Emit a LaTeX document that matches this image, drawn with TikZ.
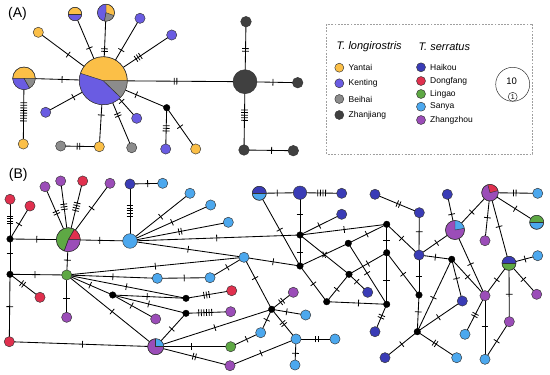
\documentclass[tikz,border=0pt]{standalone}
\usepackage{fontspec}
\setmainfont{Liberation Sans}
\usetikzlibrary{backgrounds}
\definecolor{cY}{HTML}{FBBF47}
\definecolor{cK}{HTML}{6A5CE2}
\definecolor{cB}{HTML}{8C8C8C}
\definecolor{cZ}{HTML}{404040}
\definecolor{cH}{HTML}{3A3CB6}
\definecolor{cR}{HTML}{E0304E}
\definecolor{cG}{HTML}{5EA844}
\definecolor{cS}{HTML}{4CA8EE}
\definecolor{cV}{HTML}{9B4DB8}
\definecolor{olc}{HTML}{333333}
\tikzset{
 hp/.style={circle, draw=olc, line width=0.45pt, inner sep=0pt, outer sep=0pt, minimum size=10.2pt},
 jn/.style={circle, fill=black, draw=black, line width=0.3pt, inner sep=0pt, outer sep=0pt, minimum size=6.6pt},
 edge/.style={line width=0.85pt, black},
 tkline/.style={line width=0.8pt, black},
 olin/.style={draw=olc, line width=0.45pt},
 pics/tk/.style={code={\foreach \i in {1,...,#1}{\draw[tkline] ({(\i-(#1+1)/2)*2.6pt},-3.4pt) -- ({(\i-(#1+1)/2)*2.6pt},3.4pt);}}},
 lbl/.style={font=\fontsize{8.5}{10}\selectfont, anchor=west, inner sep=0pt},
 hdr/.style={font=\fontsize{11}{13}\selectfont\itshape, anchor=west, inner sep=0pt},
 panel/.style={font=\fontsize{14}{16}\selectfont, inner sep=0pt},
 lgc/.style={circle, draw=olc, line width=0.45pt, inner sep=0pt, minimum size=9pt},
}
\newcommand\hedge[4]{\draw[edge] (#1.center) -- (#2.center) pic[pos=#4,sloped]{tk=#3};}
\newcommand\hslice[5]{\fill[#5] (#1.center) -- ++(#3:#2pt) arc[start angle=#3, end angle=#4, radius=#2pt] -- cycle; \draw[olin] (#1.center) -- ++(#3:#2pt) (#1.center) -- ++(#4:#2pt);}
\newcommand\hrim[2]{\draw[olin] (#1.center) circle[radius=#2pt];}
\begin{document}
\begin{tikzpicture}[x=1pt,y=-1pt]
\useasboundingbox (0,0) rectangle (550,375);
\begin{scope}[on background layer]
\fill[white] (0,0) rectangle (550,375);
\end{scope}
% panel labels
\node[panel] (labA) at (17.5,13.5) {(A)};
\node[panel] (labB) at (18.3,174.5) {(B)};
% ---------------- Panel A nodes
\node[hp, fill=cY, minimum size=48pt] (a0) at (103.3,80.7) {};
\node[hp, fill=cY] (ay1) at (38.3,32.3) {};
\node[hp, fill=cY, minimum size=13.4pt] (ap1) at (75,14) {};
\node[hp, fill=cY, minimum size=17pt] (ap2) at (106,12.7) {};
\node[hp, fill=cK] (ak1) at (140,18.3) {};
\node[hp, fill=cK] (ak2) at (171.7,35) {};
\node[hp, fill=cY, minimum size=22.6pt] (ap3) at (24,78.3) {};
\node[hp, fill=cY] (ay2) at (23.3,144) {};
\node[hp, fill=cK] (ak3) at (45.7,112.3) {};
\node[hp, fill=cB] (ab1) at (60.7,146) {};
\node[hp, fill=cY] (ay3) at (99.3,146.7) {};
\node[hp, fill=cB] (ab2) at (131.7,147.7) {};
\node[hp, fill=cK] (ak4) at (136.7,118.3) {};
\node[jn] (aj) at (166.7,107.7) {};
\node[hp, fill=cK] (ak5) at (165.7,149) {};
\node[hp, fill=cY] (ay4) at (195.7,149) {};
\node[hp, fill=cZ, minimum size=24pt] (az0) at (245,81.7) {};
\node[hp, fill=cZ, minimum size=10.6pt] (az1) at (246,21.7) {};
\node[hp, fill=cZ, minimum size=10.6pt] (az2) at (297.7,82.7) {};
\node[hp, fill=cZ, minimum size=10.6pt] (az3) at (244,150) {};
\node[hp, fill=cZ, minimum size=10.6pt] (az4) at (293.3,150.7) {};
\hslice{a0}{24}{162}{316}{cK}\hslice{a0}{24}{316}{360}{cB}\hrim{a0}{24}
\hslice{ap1}{6.7}{180}{360}{cK}\hrim{ap1}{6.7}
\hslice{ap2}{8.5}{90}{260}{cK}\hslice{ap2}{8.5}{260}{340}{cB}\hrim{ap2}{8.5}
\hslice{ap3}{11.3}{180}{300}{cK}\hslice{ap3}{11.3}{300}{360}{cB}\hrim{ap3}{11.3}
% ---------------- Legend
\draw[gray!75, line width=0.6pt, dash pattern=on 1.8pt off 1.4pt] (326.7,24) rectangle (532.7,154);
\node[hdr] (hl) at (336.5,46.7) {T. longirostris};
\node[hdr] (hs) at (418.3,46.7) {T. serratus};
\node[lgc, fill=cY] (l1) at (339.3,67.7) {};
\node[lgc, fill=cK] (l2) at (339.3,83.3) {};
\node[lgc, fill=cB] (l3) at (339.3,99) {};
\node[lgc, fill=cZ] (l4) at (339.3,115) {};
\node[lbl] (t1) at (348.5,67.7) {Yantai};
\node[lbl] (t2) at (348.5,83.3) {Kenting};
\node[lbl] (t3) at (348.5,99) {Beihai};
\node[lbl] (t4) at (348.5,115) {Zhanjiang};
\node[lgc, fill=cH] (l5) at (421,67.3) {};
\node[lgc, fill=cR] (l6) at (421,81) {};
\node[lgc, fill=cG] (l7) at (421,94) {};
\node[lgc, fill=cS] (l8) at (421,106.7) {};
\node[lgc, fill=cV] (l9) at (421,120) {};
\node[lbl] (t5) at (430,67.3) {Haikou};
\node[lbl] (t6) at (430,81) {Dongfang};
\node[lbl] (t7) at (430,94) {Lingao};
\node[lbl] (t8) at (430,106.7) {Sanya};
\node[lbl] (t9) at (430,120) {Zhangzhou};
\node[circle, draw=olc, line width=0.5pt, minimum size=34pt, inner sep=0pt] (sz10) at (512.7,84.3) {};
\node[font=\fontsize{9.5}{11}\selectfont, inner sep=0pt] (sz10t) at (511.7,81.5) {10};
\node[circle, draw=olc, line width=0.5pt, fill=white, minimum size=9pt, inner sep=0pt, font=\fontsize{7}{8}\selectfont] (sz1) at (512.7,96.8) {1};
% ---------------- Panel B nodes
\node[hp, fill=cR] (br1) at (10,199.3) {};
\node[hp, fill=cR] (br2) at (30,206) {};
\node[jn] (bj1) at (10,239) {};
\node[hp, fill=cG, minimum size=24pt] (bp1) at (68.3,239.7) {};
\node[hp, fill=cV] (bv1) at (45,186.7) {};
\node[hp, fill=cV] (bv2) at (60.7,181) {};
\node[hp, fill=cR] (br3) at (82.7,181) {};
\node[hp, fill=cV] (bv3) at (110,183.3) {};
\node[hp, fill=cH] (bh1) at (130,184) {};
\node[hp, fill=cS] (bs1) at (162.7,183.3) {};
\node[hp, fill=cS, minimum size=14.6pt] (bs0) at (130,241) {};
\node[hp, fill=cS] (bs2) at (190,193.3) {};
\node[hp, fill=cS] (bs3) at (210.7,205) {};
\node[hp, fill=cS] (bs4) at (228.3,222.3) {};
\node[hp, fill=cS, minimum size=14pt] (bq1) at (259.3,193.3) {};
\node[hp, fill=cS] (bs5) at (244,257.3) {};
\node[jn] (bj2) at (10,274.3) {};
\node[hp, fill=cG] (bg1) at (66.7,275) {};
\node[hp, fill=cR] (br4) at (40,297.3) {};
\node[hp, fill=cV] (bv4) at (66.7,317.3) {};
\node[hp, fill=cR] (br5) at (9.3,341.7) {};
\node[hp, fill=cS] (bs6) at (157.3,278.3) {};
\node[hp, fill=cS] (bs7) at (210,277.7) {};
\node[jn] (bj3) at (112.7,295) {};
\node[jn] (bj4) at (186,298.3) {};
\node[hp, fill=cR] (br6) at (231.7,290.7) {};
\node[jn] (bj5) at (186,313.3) {};
\node[hp, fill=cV] (bv5) at (230.7,311.7) {};
\node[hp, fill=cV] (bv6) at (155.7,319) {};
\node[hp, fill=cV, minimum size=16pt] (bp2) at (155.7,346.7) {};
\node[hp, fill=cG] (bg2) at (230.7,346.7) {};
\node[hp, fill=cV] (bv7) at (230,365.7) {};
\node[hp, fill=cS] (bs8) at (260.7,332.7) {};
\node[jn] (bj6) at (271.7,309.3) {};
\node[hp, fill=cH, minimum size=13.4pt] (bh2) at (300,192.7) {};
\node[hp, fill=cH] (bh3) at (341.7,193.3) {};
\node[hp, fill=cH] (bh4) at (341.7,214.3) {};
\node[jn] (bk1) at (300,235) {};
\node[jn] (bk2) at (300,266) {};
\node[jn] (bk3) at (348.3,243.3) {};
\node[jn] (bk4) at (386.7,224.3) {};
\node[jn] (bk5) at (386.7,252.7) {};
\node[jn] (bk6) at (349,274.3) {};
\node[hp, fill=cH] (bh5) at (367.7,292.3) {};
\node[jn] (bk7) at (326.7,301.7) {};
\node[jn] (bk8) at (386.7,304.3) {};
\node[hp, fill=cH] (bh6) at (375,331.7) {};
\node[hp, fill=cV] (bv8) at (293.3,292.3) {};
\node[hp, fill=cS] (bs9) at (305.7,315) {};
\node[hp, fill=cS] (bt1) at (296,339) {};
\node[hp, fill=cS] (bs10) at (335,339) {};
\node[hp, fill=cS] (bs11) at (295,365) {};
\node[hp, fill=cH] (bh7) at (385,357.7) {};
\node[hp, fill=cH] (bh8) at (375,194.3) {};
\node[hp, fill=cH] (bh9) at (419.3,212.7) {};
\node[hp, fill=cH] (bm1) at (419,255) {};
\node[jn] (bm2) at (419,295) {};
\node[jn] (bm3) at (417.3,331.7) {};
\node[hp, fill=cS] (bs12) at (456.7,357.7) {};
\node[jn] (bm4) at (451.7,259.3) {};
\node[hp, fill=cH] (bh10) at (462.3,301) {};
\node[hp, fill=cH] (bh11) at (447.3,194.3) {};
\node[hp, fill=cV, minimum size=19pt] (bp3) at (455,230) {};
\node[hp, fill=cV, minimum size=16.6pt] (bp4) at (490,192.7) {};
\node[hp, fill=cS] (bs13) at (537.7,193.3) {};
\node[hp, fill=cS, minimum size=14pt] (bq2) at (536.7,222.3) {};
\node[hp, fill=cV] (bv9) at (485,240.7) {};
\node[hp, fill=cG, minimum size=14pt] (bq3) at (509,263.3) {};
\node[hp, fill=cS] (bs14) at (537.7,255.7) {};
\node[hp, fill=cV] (bv10) at (536.7,294.3) {};
\node[hp, fill=cV] (bvr) at (485,295.7) {};
\node[hp, fill=cV] (bv11) at (509.3,321.7) {};
\node[hp, fill=cS] (bs15) at (465,334.3) {};
\node[hp, fill=cS] (bs16) at (485,359.3) {};
\hslice{bp1}{12}{0}{60}{cR}\hslice{bp1}{12}{250}{360}{cV}\draw[olin] (bp1.center) -- ++(60:12pt) (bp1.center) -- ++(250:12pt);\hrim{bp1}{12}
\hslice{bq1}{7}{0}{180}{cH}\hrim{bq1}{7}
\hslice{bp2}{8}{0}{90}{cS}\hrim{bp2}{8}
\hslice{bp3}{9.5}{10}{90}{cS}\hrim{bp3}{9.5}
\hslice{bp4}{8.3}{15}{105}{cR}\hrim{bp4}{8.3}
\hslice{bq2}{7}{0}{180}{cG}\hrim{bq2}{7}
\hslice{bq3}{7}{0}{180}{cH}\hrim{bq3}{7}
% ---------------- Edges
\begin{scope}[on background layer]
% A
\hedge{a0}{ay1}{1}{0.54}
\hedge{a0}{ap1}{1}{0.49}
\hedge{a0}{ap2}{2}{0.45}
\hedge{a0}{ak1}{1}{0.49}
\hedge{a0}{ak2}{3}{0.51}
\hedge{a0}{ap3}{1}{0.52}
\hedge{ap3}{ay2}{8}{0.51}
\hedge{a0}{ak3}{1}{0.52}
\hedge{a0}{ay3}{1}{0.52}
\hedge{ay3}{ab1}{2}{0.54}
\hedge{a0}{ab2}{2}{0.51}
\hedge{a0}{ak4}{1}{0.55}
\hedge{a0}{aj}{1}{0.52}
\hedge{aj}{ak5}{3}{0.5}
\hedge{aj}{ay4}{1}{0.46}
\hedge{a0}{az0}{2}{0.51}
\hedge{az0}{az1}{2}{0.53}
\hedge{az0}{az2}{1}{0.53}
\hedge{az0}{az3}{5}{0.49}
\hedge{az3}{az4}{1}{0.56}
% B left
\hedge{bj1}{br1}{4}{0.48}
\hedge{bj1}{br2}{1}{0.45}
\hedge{bj1}{bp1}{1}{0.46}
\hedge{bp1}{bv1}{2}{0.51}
\hedge{bp1}{bv2}{3}{0.56}
\hedge{bp1}{br3}{4}{0.56}
\hedge{bp1}{bv3}{1}{0.56}
\hedge{bp1}{bs0}{1}{0.51}
\hedge{bp1}{bg1}{1}{0.58}
\hedge{bj1}{bj2}{1}{0.42}
\hedge{bh1}{bs0}{5}{0.47}
\hedge{bh1}{bs1}{1}{0.54}
\hedge{bs0}{bs2}{1}{0.51}
\hedge{bs0}{bs3}{1}{0.52}
\hedge{bs0}{bs4}{2}{0.51}
\hedge{bs0}{bk1}{1}{0.51}
\hedge{bs0}{bs5}{1}{0.51}
\hedge{bs5}{bk2}{1}{0.52}
\hedge{bs5}{bj6}{1}{0.4}
\hedge{bj2}{bg1}{1}{0.44}
\hedge{bj2}{br4}{2}{0.42}
\hedge{bj2}{br5}{1}{0.48}
\hedge{br5}{bp2}{1}{0.5}
\hedge{bg1}{bv4}{1}{0.55}
\hedge{bg1}{bs5}{1}{0.5}
\hedge{bg1}{bs6}{1}{0.51}
\hedge{bs6}{bs7}{1}{0.51}
\hedge{bs7}{bs5}{1}{0.51}
\hedge{bg1}{bj4}{1}{0.5}
\hedge{bg1}{bj3}{1}{0.51}
\hedge{bg1}{bp2}{1}{0.51}
\hedge{bj3}{bj4}{1}{0.47}
\hedge{bj3}{bj5}{1}{0.49}
\hedge{bj3}{bv6}{1}{0.44}
\hedge{bj4}{br6}{3}{0.45}
\hedge{bj5}{bv5}{6}{0.43}
\hedge{bj5}{bp2}{1}{0.47}
\hedge{bp2}{bj6}{1}{0.51}
\hedge{bp2}{bg2}{1}{0.48}
\hedge{bp2}{bv7}{2}{0.52}
\hedge{bg2}{bs8}{1}{0.53}
\hedge{bv7}{bt1}{1}{0.47}
\hedge{bj6}{bv8}{2}{0.46}
\hedge{bj6}{bs9}{1}{0.44}
\hedge{bj6}{bs8}{1}{0.45}
\hedge{bj6}{bt1}{2}{0.48}
\hedge{bt1}{bs10}{2}{0.53}
\hedge{bt1}{bs11}{1}{0.55}
% B middle
\hedge{bq1}{bh2}{1}{0.44}
\hedge{bh2}{bh3}{4}{0.52}
\hedge{bh2}{bk1}{1}{0.51}
\hedge{bk1}{bh4}{1}{0.46}
\hedge{bk1}{bk4}{1}{0.51}
\hedge{bk1}{bk2}{1}{0.56}
\hedge{bk1}{bk6}{1}{0.5}
\hedge{bq1}{bk2}{1}{0.5}
\hedge{bk2}{bk3}{1}{0.5}
\hedge{bk2}{bk7}{1}{0.5}
\hedge{bk3}{bk4}{1}{0.48}
\hedge{bk3}{bk8}{1}{0.49}
\hedge{bk4}{bk5}{1}{0.55}
\hedge{bk5}{bk6}{1}{0.5}
\hedge{bk5}{bk8}{1}{0.53}
\hedge{bk4}{bm1}{1}{0.46}
\hedge{bk5}{bm2}{1}{0.51}
\hedge{bk6}{bh5}{1}{0.41}
\hedge{bk6}{bk7}{1}{0.55}
\hedge{bk7}{bk8}{1}{0.53}
\hedge{bk8}{bh6}{2}{0.45}
\hedge{bh8}{bh9}{2}{0.53}
\hedge{bh9}{bm1}{1}{0.45}
\hedge{bm1}{bm2}{1}{0.54}
\hedge{bm2}{bm3}{1}{0.46}
\hedge{bm3}{bh7}{1}{0.48}
\hedge{bm3}{bs12}{2}{0.45}
\hedge{bm3}{bm4}{1}{0.47}
\hedge{bm3}{bh10}{1}{0.47}
\hedge{bm1}{bm4}{1}{0.5}
\hedge{bm1}{bp3}{1}{0.49}
\hedge{bm4}{bh10}{1}{0.46}
\hedge{bm4}{bvr}{1}{0.48}
\hedge{bp3}{bvr}{1}{0.52}
\hedge{bh11}{bp3}{1}{0.56}
\hedge{bp3}{bp4}{1}{0.48}
\hedge{bp4}{bs13}{2}{0.52}
\hedge{bp4}{bq2}{1}{0.54}
\hedge{bp4}{bv9}{1}{0.52}
\hedge{bp4}{bq3}{1}{0.48}
\hedge{bq3}{bs14}{1}{0.56}
\hedge{bq3}{bvr}{1}{0.51}
\hedge{bq3}{bv10}{1}{0.52}
\hedge{bq3}{bv11}{1}{0.53}
\hedge{bv11}{bs16}{1}{0.52}
\hedge{bvr}{bs15}{2}{0.5}
\hedge{bvr}{bs16}{1}{0.48}
\end{scope}
\end{tikzpicture}
\end{document}
